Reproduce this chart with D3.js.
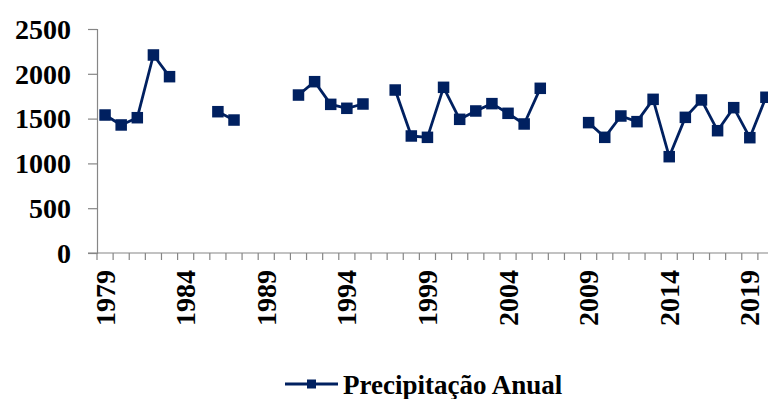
<!DOCTYPE html>
<html>
<head>
<meta charset="utf-8">
<script src="https://cdn.jsdelivr.net/npm/d3@7"></script>
<style>
  html, body { margin: 0; padding: 0; background: #fff; }
  svg { display: block; }
</style>
</head>
<body>
<svg id="chart" width="768" height="399"></svg>
<script>
// Annual precipitation by year (null = no record for that year)
const years = d3.range(1979, 2021);
const precipitation = [
  1540, 1429, 1510, 2210, 1968, null, null, 1577, 1484, null,
  null, null, 1763, 1912, 1659, 1615, 1663, null, 1819, 1306,
  1291, 1849, 1492, 1585, 1667, 1559, 1440, 1838, null, null,
  1455, 1291, 1529, 1466, 1715, 1075, 1514, 1708, 1365, 1622,
  1287, 1738
];
const yTicks = [0, 500, 1000, 1500, 2000, 2500];
const xLabelYears = [1979, 1984, 1989, 1994, 1999, 2004, 2009, 2014, 2019];
const seriesName = "Precipitação Anual";

const color = "#002060";
const axisColor = "#868686";
const font = "'Liberation Serif'";

const svg = d3.select("#chart");
const plotLeft = 97, plotTop = 29, plotBottom = 253, plotRight = 774;

const x = d3.scaleBand().domain(years).range([plotLeft, plotRight]).padding(0);
const y = d3.scaleLinear().domain([0, 2500]).range([plotBottom, plotTop]);
const cx = d => x(d) + x.bandwidth() / 2;

const styleText = sel => sel
  .style("font-family", font).style("font-weight", "bold").style("font-size", "28px").attr("fill", "#000");

// Y axis
const yAxis = svg.append("g").attr("transform", `translate(${plotLeft},0)`)
  .call(d3.axisLeft(y).tickValues(yTicks).tickSize(9).tickPadding(17).tickFormat(d3.format("d")));
yAxis.attr("font-family", null).attr("font-size", null);
yAxis.select(".domain").attr("stroke", axisColor).attr("stroke-width", 1.2);
yAxis.selectAll(".tick line").attr("stroke", axisColor).attr("stroke-width", 1.2);
yAxis.selectAll("text").attr("dy", "0.33em").call(styleText);

// X axis line with tick marks at category boundaries
const xg = svg.append("g");
xg.append("line").attr("x1", plotLeft - 9).attr("x2", plotRight).attr("y1", y(0)).attr("y2", y(0))
  .attr("stroke", axisColor).attr("stroke-width", 1.2);
const boundaries = years.map(d => x(d)).concat([x(years[years.length - 1]) + x.bandwidth()]);
xg.selectAll("line.tk").data(boundaries).join("line").attr("class", "tk")
  .attr("x1", d => d).attr("x2", d => d).attr("y1", y(0)).attr("y2", y(0) + 7)
  .attr("stroke", axisColor).attr("stroke-width", 1.2);
xg.selectAll("text").data(xLabelYears).join("text")
  .attr("transform", d => `translate(${cx(d) + 9.5},${y(0) + 17}) rotate(-90)`)
  .attr("text-anchor", "end")
  .call(styleText)
  .text(d => d);

// Series line (broken where data is missing) and square markers
const pts = years.map((yr, i) => ({ yr, v: precipitation[i] }));
const line = d3.line().defined(d => d.v != null).x(d => cx(d.yr)).y(d => y(d.v));
svg.append("path").datum(pts).attr("d", line)
  .attr("fill", "none").attr("stroke", color).attr("stroke-width", 2.8).attr("stroke-linejoin", "round");
const ms = 11.5;
svg.selectAll("rect.m").data(pts.filter(d => d.v != null)).join("rect").attr("class", "m")
  .attr("x", d => cx(d.yr) - ms / 2).attr("y", d => y(d.v) - ms / 2)
  .attr("width", ms).attr("height", ms).attr("fill", color);

// Legend
const lg = svg.append("g");
lg.append("line").attr("x1", 285).attr("x2", 338).attr("y1", 384).attr("y2", 384)
  .attr("stroke", color).attr("stroke-width", 2.8);
lg.append("rect").attr("x", 311.5 - 4.5).attr("y", 384 - 4.5).attr("width", 9).attr("height", 9).attr("fill", color);
lg.append("text").attr("x", 343).attr("y", 394).call(styleText).style("font-size", "27px").text(seriesName);
</script>
</body>
</html>
